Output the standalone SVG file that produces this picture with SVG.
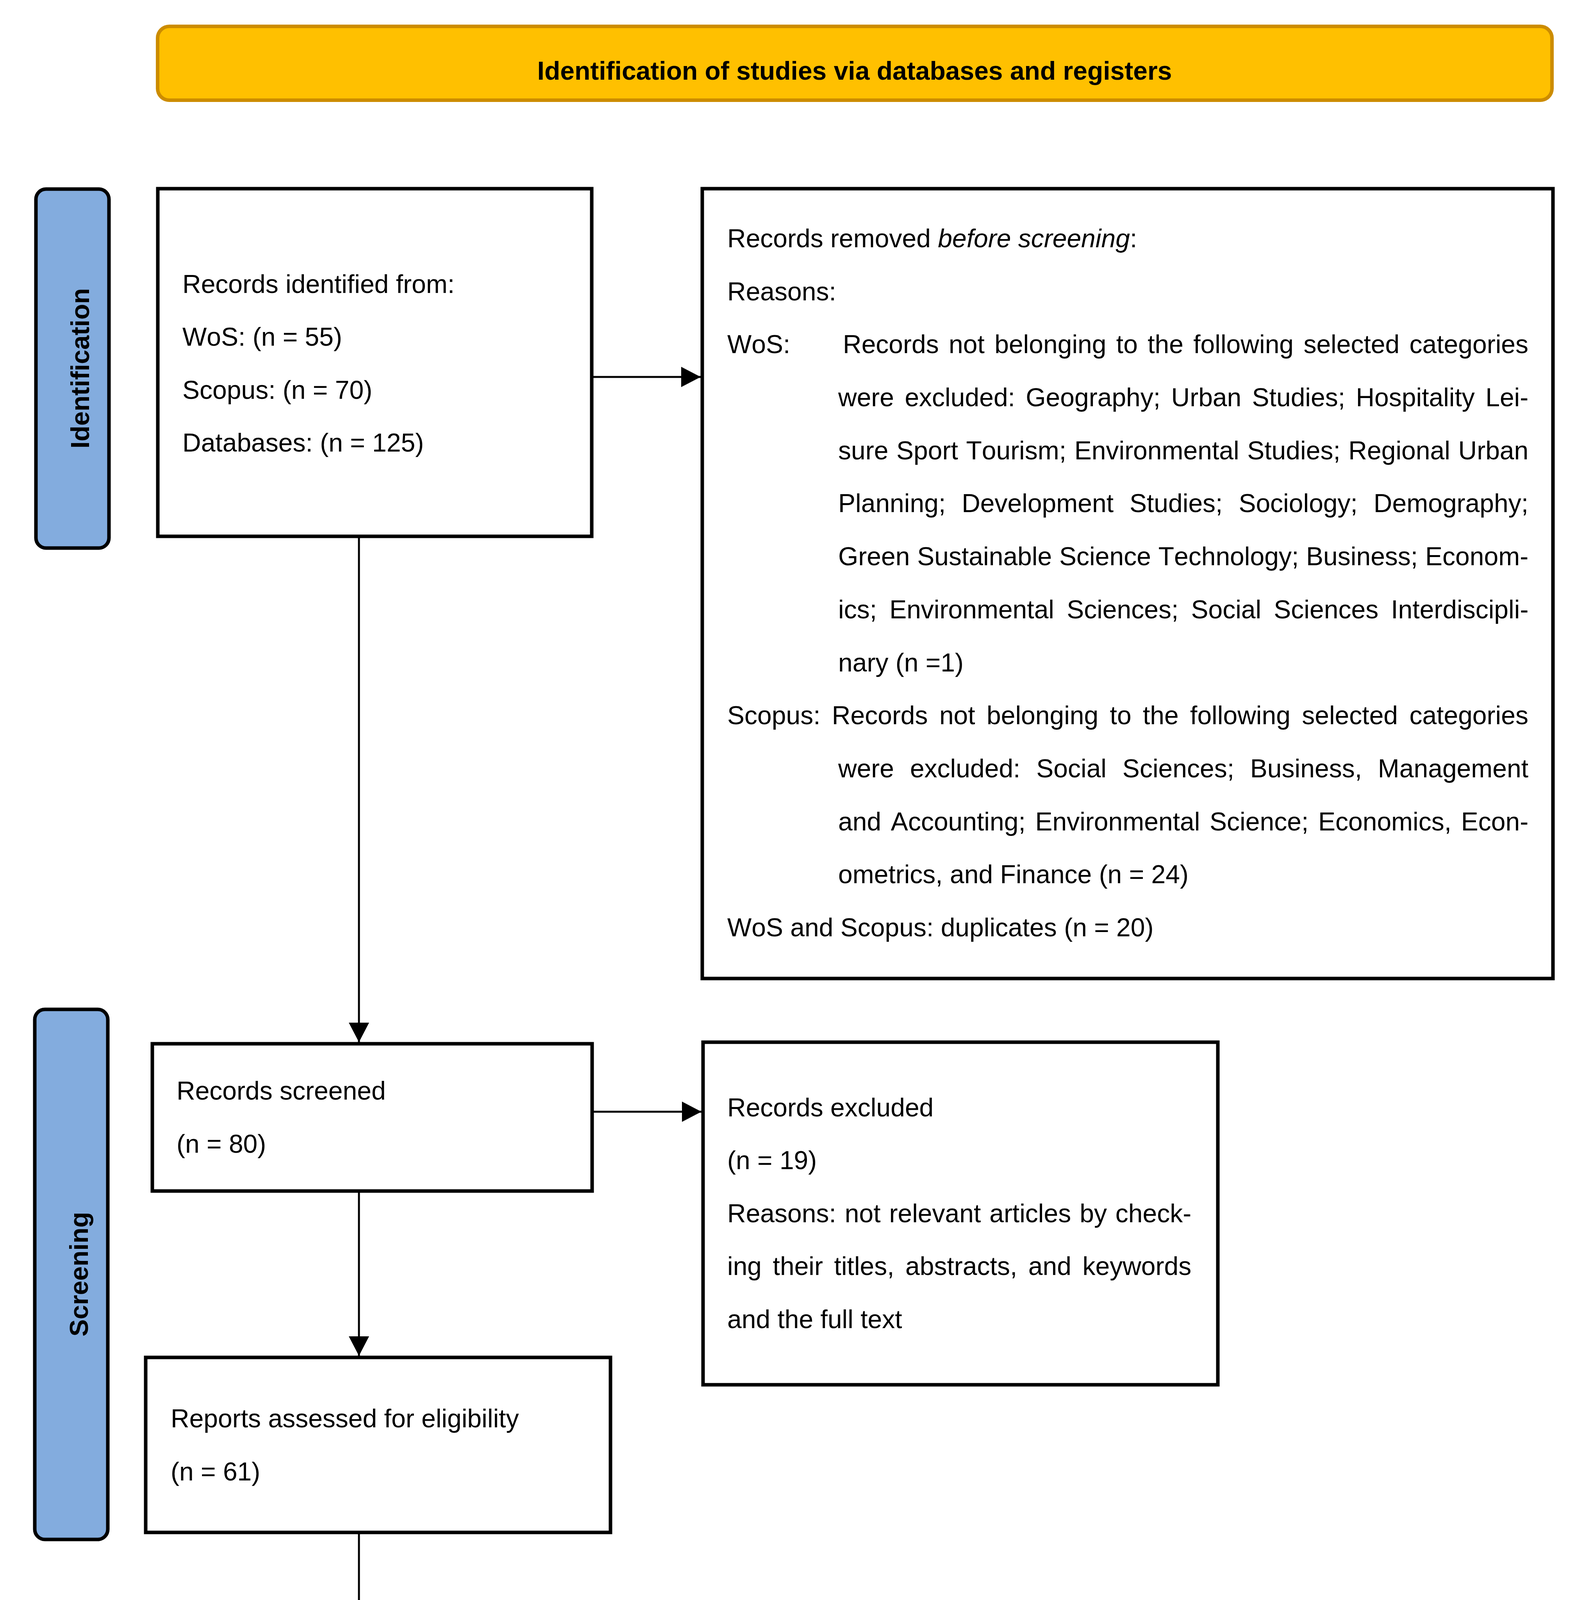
<svg xmlns="http://www.w3.org/2000/svg" width="4035" height="4788" viewBox="0 0 4035 4788">
<style>
.box{fill:#fff;stroke:#000;stroke-width:9}
.lane{fill:#83ACDE;stroke:#000;stroke-width:9}
.t{font-family:'Liberation Sans',Arial,sans-serif;font-size:66px;fill:#000;font-kerning:none}
.b{font-weight:bold}
.conn{stroke:#000;stroke-width:5;fill:none;marker-end:url(#ah)}
</style>
<defs>
<marker id="ah" markerUnits="userSpaceOnUse" markerWidth="50" markerHeight="52" refX="50" refY="26" orient="auto">
<path d="M0,0 L50,26 L0,52 Z" fill="#000"/>
</marker>
</defs>
<rect width="4035" height="4788" fill="#fff"/>

<g id="header">
<rect x="403.5" y="67.5" width="3570" height="189" rx="30" ry="30" fill="#FFC000" stroke="#CC8C00" stroke-width="9"/>
<text class="t b" x="2188" y="204" text-anchor="middle">Identification of studies via databases and registers</text>
</g>

<g id="lane-identification">
<rect class="lane" x="92" y="484" width="187" height="919" rx="26" ry="26"/>
<text class="t b" transform="translate(228,943) rotate(-90)" text-anchor="middle">Identification</text>
</g>
<g id="lane-screening">
<rect class="lane" x="89" y="2584" width="187" height="1357" rx="26" ry="26"/>
<text class="t b" transform="translate(225,3262) rotate(-90)" text-anchor="middle">Screening</text>
</g>
<g id="lane-included">
<rect class="lane" x="107" y="4178" width="176" height="543" rx="26" ry="26"/>
<text class="t b" transform="translate(238,4450) rotate(-90)" text-anchor="middle">Included</text>
</g>

<g id="records-identified">
<rect class="box" x="404" y="483" width="1111" height="890"/>
<text class="t" x="467" y="750">Records identified from:</text>
<text class="t" x="467" y="885">WoS: (n = 55)</text>
<text class="t" x="467" y="1021">Scopus: (n = 70)</text>
<text class="t" x="467" y="1156">Databases: (n = 125)</text>
</g>

<g id="records-removed">
<rect class="box" x="1798" y="483" width="2178" height="2022"/>
<text class="t" x="1862" y="633">Records removed <tspan font-style="italic">before screening</tspan>:</text>
<text class="t" x="1862" y="769">Reasons:</text>
<text class="t" x="1862" y="904">WoS:</text>
<text class="t" x="2158" y="904" word-spacing="7">Records not belonging to the following selected categories</text>
<text class="t" x="2146" y="1040" word-spacing="9">were excluded: Geography; Urban Studies; Hospitality Lei-</text>
<text class="t" x="2146" y="1176" word-spacing="2.3">sure Sport Tourism; Environmental Studies; Regional Urban</text>
<text class="t" x="2146" y="1311" word-spacing="22.6">Planning; Development Studies; Sociology; Demography;</text>
<text class="t" x="2146" y="1447" word-spacing="0.5">Green Sustainable Science Technology; Business; Econom-</text>
<text class="t" x="2146" y="1583" word-spacing="13.8">ics; Environmental Sciences; Social Sciences Interdiscipli-</text>
<text class="t" x="2146" y="1719">nary (n =1)</text>
<text class="t" x="1862" y="1854" word-spacing="11">Scopus: Records not belonging to the following selected categories</text>
<text class="t" x="2146" y="1990" word-spacing="22.5">were excluded: Social Sciences; Business, Management</text>
<text class="t" x="2146" y="2126" word-spacing="6.4">and Accounting; Environmental Science; Economics, Econ-</text>
<text class="t" x="2146" y="2261">ometrics, and Finance (n = 24)</text>
<text class="t" x="1862" y="2397">WoS and Scopus: duplicates (n = 20)</text>
</g>

<g id="records-screened">
<rect class="box" x="390" y="2672" width="1126" height="377"/>
<text class="t" x="452" y="2815">Records screened</text>
<text class="t" x="452" y="2951">(n = 80)</text>
</g>

<g id="records-excluded">
<rect class="box" x="1800" y="2668" width="1318" height="877"/>
<text class="t" x="1862" y="2858">Records excluded</text>
<text class="t" x="1862" y="2993">(n = 19)</text>
<text class="t" x="1862" y="3129" word-spacing="3.6">Reasons: not relevant articles by check-</text>
<text class="t" x="1862" y="3264" word-spacing="10.2">ing their titles, abstracts, and keywords</text>
<text class="t" x="1862" y="3400">and the full text</text>
</g>

<g id="reports-assessed">
<rect class="box" x="373" y="3475" width="1190" height="448"/>
<text class="t" x="437" y="3654">Reports assessed for eligibility</text>
<text class="t" x="437" y="3790">(n = 61)</text>
</g>

<g id="studies-included">
<rect class="box" x="348" y="4172" width="1217" height="521"/>
<text class="t" x="414" y="4391">Studies included in review</text>
<text class="t" x="414" y="4526">(n = 61)</text>
</g>

<g id="connectors">
<line class="conn" x1="1519" y1="965" x2="1794" y2="965"/>
<line class="conn" x1="919" y1="1377" x2="919" y2="2668"/>
<line class="conn" x1="1520" y1="2846" x2="1796" y2="2846"/>
<line class="conn" x1="919" y1="3053" x2="919" y2="3471"/>
<line class="conn" x1="919" y1="3927" x2="919" y2="4168"/>
</g>
</svg>
